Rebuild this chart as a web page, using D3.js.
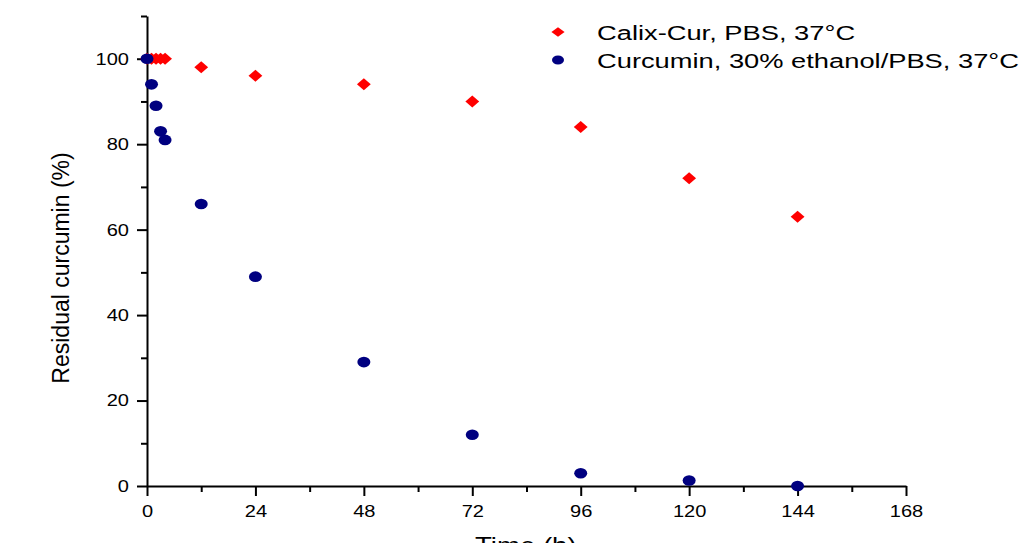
<!DOCTYPE html>
<html>
<head>
<meta charset="utf-8">
<script src="https://cdn.jsdelivr.net/npm/d3@7"></script>
<style>
  body { margin: 0; background: #fff; }
  text { font-family: Arial, "Liberation Sans", sans-serif; }
</style>
</head>
<body>
<div id="chart"></div>
<script>
// time points (h)
var calixTime = [0, 1, 2, 3, 4, 12, 24, 48, 72, 96, 120, 144];
var calixValues = [100, 100, 100, 100, 100, 98, 96, 94, 90, 84, 72, 63];
var curTime = [0, 1, 2, 3, 4, 12, 24, 48, 72, 96, 120, 144];
var curValues = [100, 94, 89, 83, 81, 66, 49, 29, 12, 3, 1.3, 0];
var xTicks = [0, 24, 48, 72, 96, 120, 144, 168];
var yTicks = [0, 20, 40, 60, 80, 100];
var seriesNames = ["Calix-Cur, PBS, 37°C", "Curcumin, 30% ethanol/PBS, 37°C"];

(function () {
    var width = 1026,
        height = 543;

    var svg = d3.select("#chart")
        .append("svg")
        .attr("width", width)
        .attr("height", height);

    var x = d3.scaleLinear().domain([0, 168]).range([147, 906]);
    var y = d3.scaleLinear().domain([0, 110]).range([486, 16]);

    // stretch text sideways, the picture is wider than tall
    function stretch(sel, k) {
        sel.each(function () {
            var t = d3.select(this);
            var ox = +t.attr("x") || 0;
            t.attr("transform", "translate(" + ox + ",0) scale(" + k + ",1) translate(" + (-ox) + ",0)");
        });
    }

    // minor ticks
    svg.append("g")
        .attr("transform", "translate(0,486)")
        .call(d3.axisBottom(x).tickValues(d3.range(12, 168, 24)).tickSize(6).tickFormat("").tickSizeOuter(0))
        .call(function (g) { g.select(".domain").remove(); })
        .selectAll("line").attr("stroke-width", 2);
    svg.append("g")
        .attr("transform", "translate(147,0)")
        .call(d3.axisLeft(y).tickValues([10, 30, 50, 70, 90, 110]).tickSize(6).tickFormat("").tickSizeOuter(0))
        .call(function (g) { g.select(".domain").remove(); })
        .selectAll("line").attr("stroke-width", 2);

    var xAxis = svg.append("g")
        .attr("transform", "translate(0,486)")
        .call(d3.axisBottom(x).tickValues(xTicks).tickSize(10).tickSizeOuter(0).tickPadding(9));
    xAxis.select(".domain").attr("stroke-width", 2);
    xAxis.selectAll("line").attr("stroke-width", 2);
    xAxis.selectAll("text").attr("font-size", 17).attr("fill", "#000")
        .attr("transform", "scale(1.18,1)");

    var yAxis = svg.append("g")
        .attr("transform", "translate(147,0)")
        .call(d3.axisLeft(y).tickValues(yTicks).tickSize(10).tickSizeOuter(0).tickPadding(8));
    yAxis.select(".domain").attr("stroke-width", 2);
    yAxis.selectAll("line").attr("stroke-width", 2);
    yAxis.selectAll("text").attr("font-size", 17).attr("fill", "#000")
        .call(stretch, 1.18);

    svg.append("text")
        .attr("transform", "translate(69,268) rotate(-90)")
        .attr("text-anchor", "middle")
        .attr("font-size", 23)
        .text("Residual curcumin (%)");

    svg.append("text")
        .attr("x", 475)
        .attr("y", 554)
        .attr("font-size", 23)
        .text("Time (h)")
        .call(stretch, 1.2);

    var diamond = d3.symbol().type(d3.symbolDiamond2).size(92);

    svg.selectAll(".calix")
        .data(calixTime)
        .enter().append("path")
        .attr("class", "calix")
        .attr("d", diamond)
        .attr("fill", "#ff0000")
        .attr("transform", function (d, i) {
            return "translate(" + x(d) + "," + y(calixValues[i]) + ") scale(1.15,1)";
        });

    svg.selectAll(".cur")
        .data(curTime)
        .enter().append("ellipse")
        .attr("class", "cur")
        .attr("rx", 6.5)
        .attr("ry", 5.3)
        .attr("fill", "#000080")
        .attr("cx", function (d) { return x(d); })
        .attr("cy", function (d, i) { return y(curValues[i]); });

    // legend
    var legend = svg.append("g");
    legend.append("path")
        .attr("d", diamond)
        .attr("fill", "#ff0000")
        .attr("transform", "translate(558,32) scale(1.1,0.8)");
    legend.append("ellipse")
        .attr("cx", 558).attr("cy", 60)
        .attr("rx", 6).attr("ry", 4.5)
        .attr("fill", "#000080");
    legend.selectAll(".leg-text")
        .data(seriesNames)
        .enter().append("text")
        .attr("class", "leg-text")
        .attr("x", 597)
        .attr("y", function (d, i) { return 40 + i * 28; })
        .attr("font-size", 21)
        .text(function (d) { return d; })
        .call(stretch, 1.3);
})();
</script>
</body>
</html>
